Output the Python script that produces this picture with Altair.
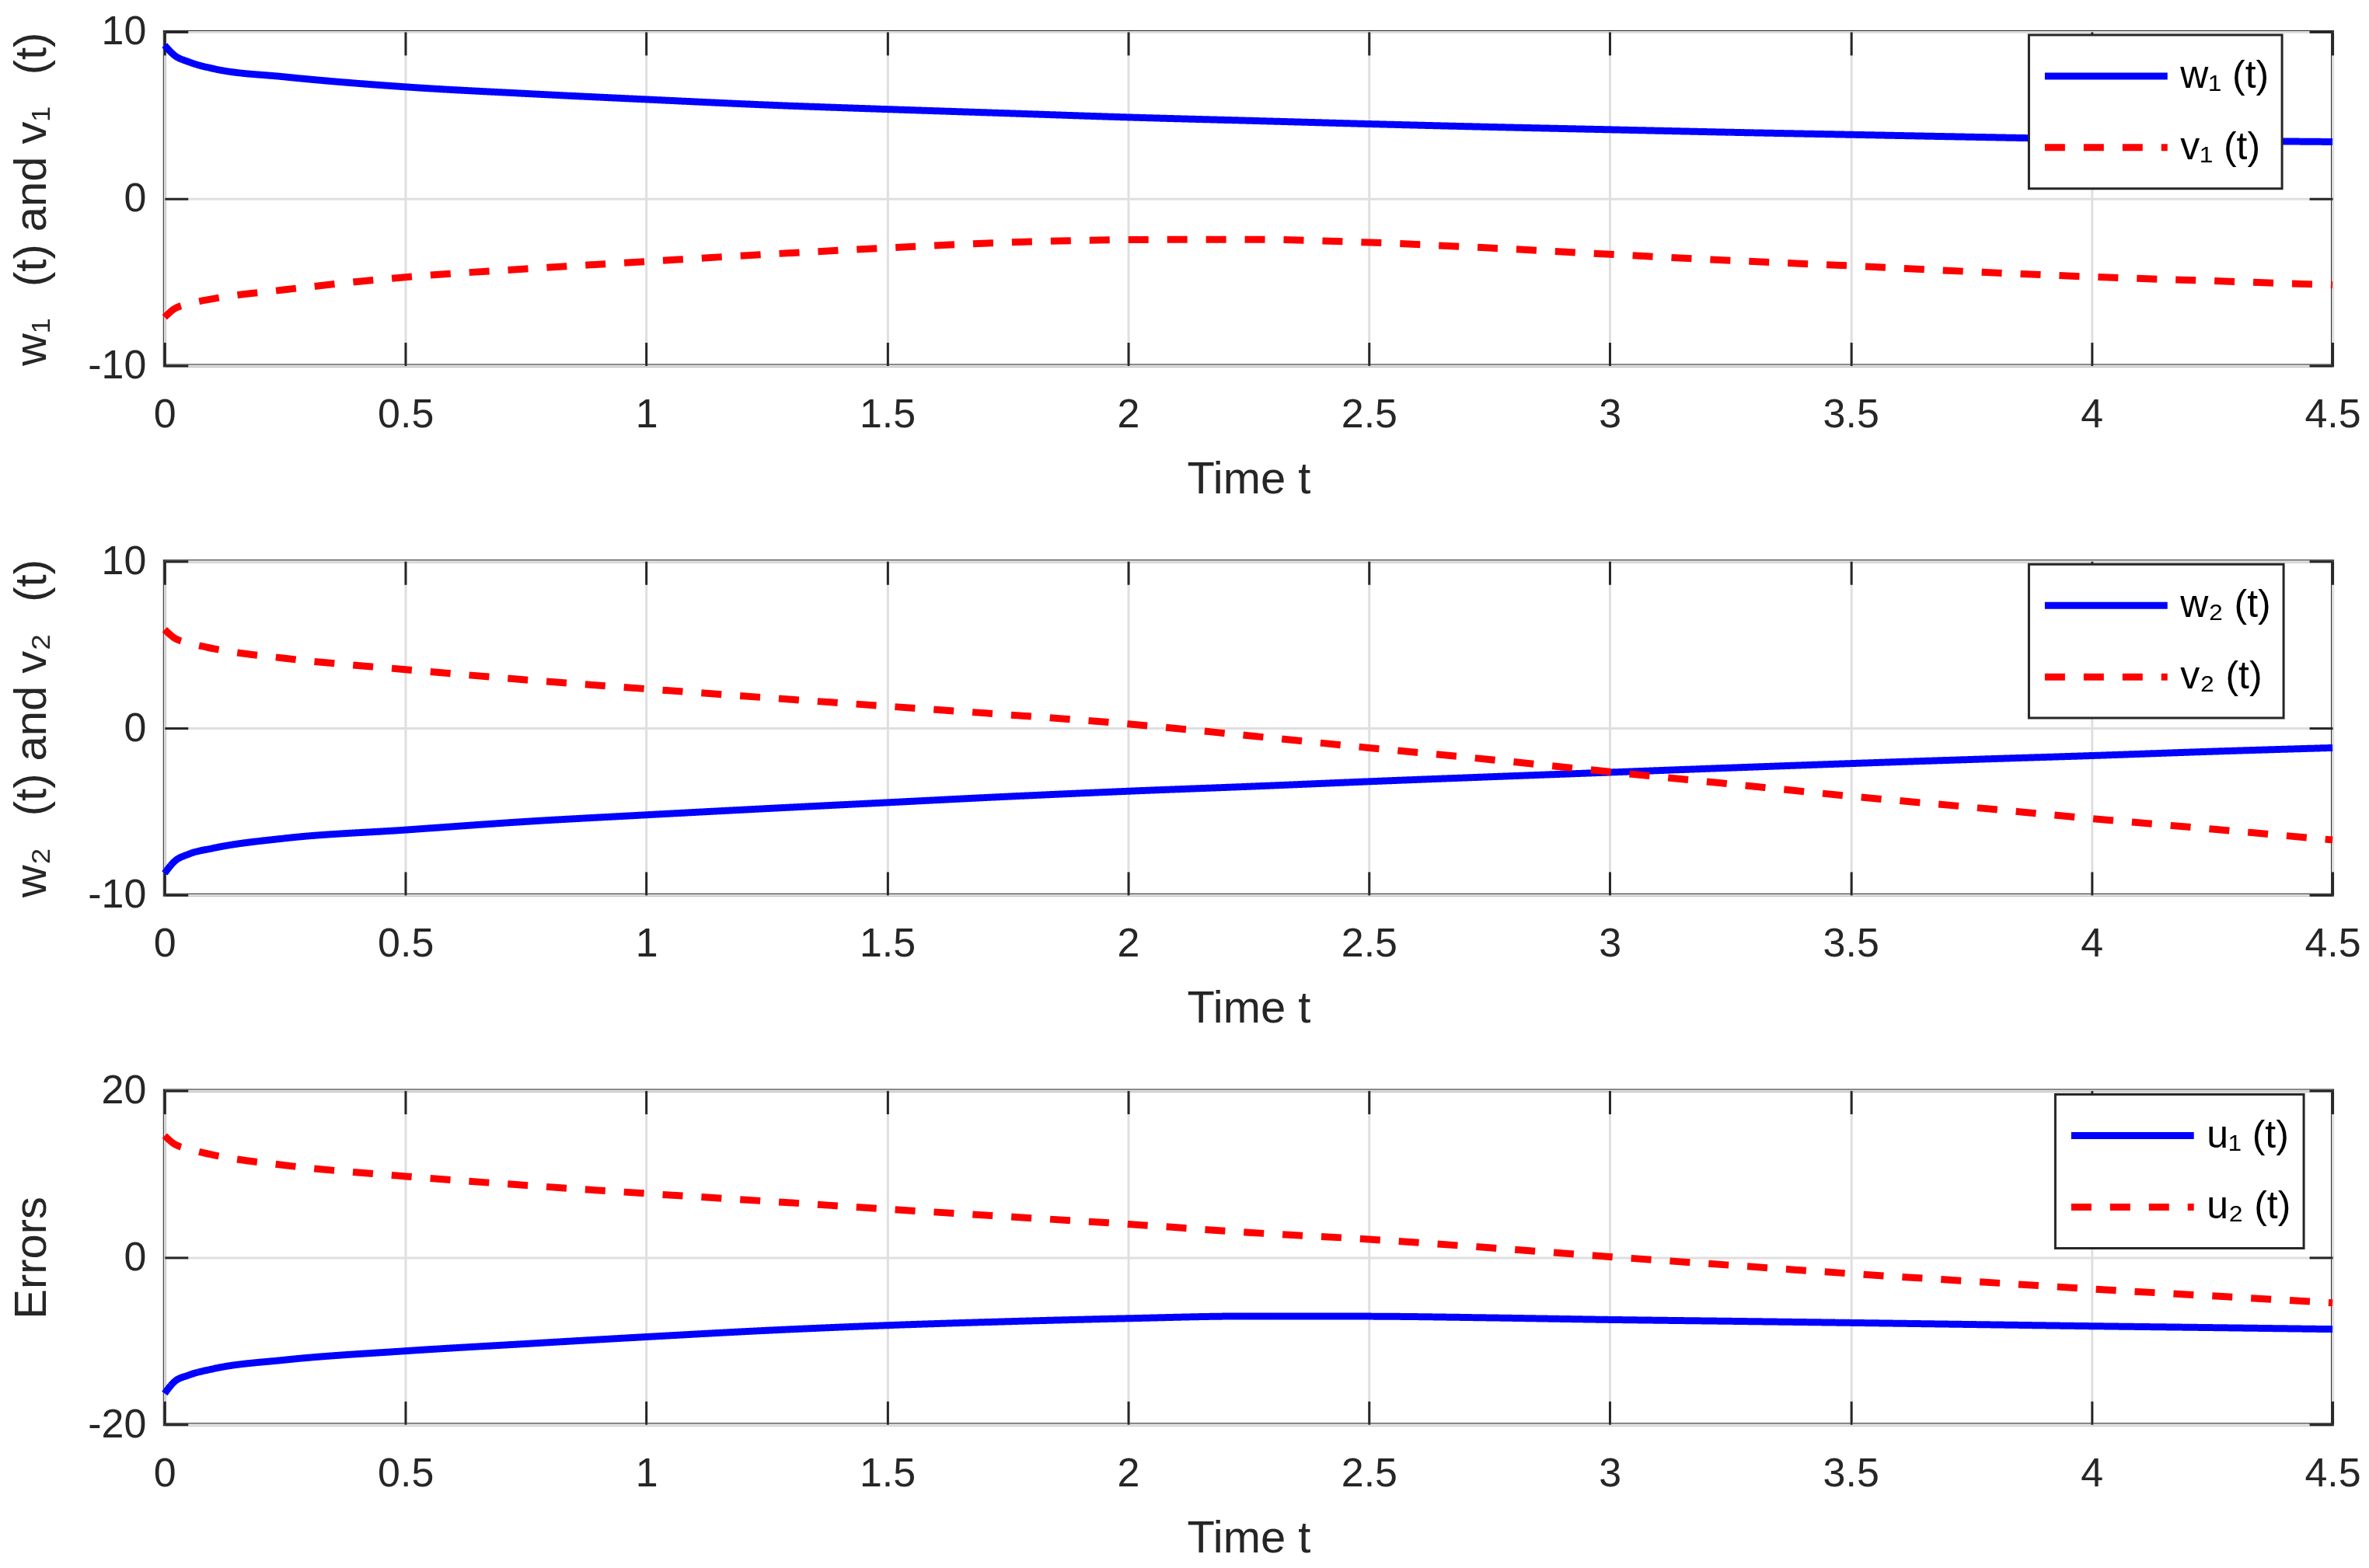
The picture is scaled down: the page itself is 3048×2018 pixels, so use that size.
import altair as alt
import pandas as pd

# ---- data ----
t = [0, 0.02, 0.05, 0.1, 0.25, 0.5, 0.75, 1.0, 1.25, 1.5, 1.75, 2.0, 2.25,
     2.5, 2.75, 3.0, 3.25, 3.5, 3.75, 4.0, 4.25, 4.5]

w1 = [9.2, 8.6, 8.2, 7.8, 7.3, 6.7, 6.3, 5.95, 5.62, 5.36, 5.12, 4.88, 4.68,
      4.48, 4.3, 4.14, 3.98, 3.84, 3.7, 3.57, 3.48, 3.41]
v1 = [-7.1, -6.6, -6.3, -6.0, -5.45, -4.7, -4.2, -3.76, -3.33, -2.95, -2.62,
      -2.46, -2.44, -2.62, -2.95, -3.33, -3.7, -4.02, -4.37, -4.68, -4.92, -5.17]

w2 = [-8.7, -8.0, -7.55, -7.2, -6.6, -6.1, -5.6, -5.2, -4.82, -4.46, -4.1,
      -3.78, -3.5, -3.2, -2.92, -2.65, -2.38, -2.12, -1.88, -1.65, -1.4, -1.18]
v2 = [5.9, 5.4, 5.1, 4.77, 4.18, 3.51, 2.89, 2.35, 1.82, 1.31, 0.8, 0.25,
      -0.45, -1.18, -1.88, -2.62, -3.35, -4.08, -4.74, -5.42, -6.05, -6.7]

u1 = [-16.3, -14.9, -14.1, -13.35, -12.27, -11.2, -10.34, -9.51, -8.74, -8.13,
      -7.67, -7.3, -7.03, -7.05, -7.22, -7.45, -7.63, -7.82, -8.02, -8.22, -8.4, -8.59]
u2 = [14.6, 13.6, 13.0, 12.3, 11.05, 9.73, 8.65, 7.67, 6.75, 5.8, 4.9, 4.0,
      3.0, 2.18, 1.17, 0.09, -0.92, -1.93, -2.85, -3.77, -4.6, -5.43]

x_ticks = [0, 0.5, 1, 1.5, 2, 2.5, 3, 3.5, 4, 4.5]
y_ticks_10 = [-10, 0, 10]
y_ticks_20 = [-20, 0, 20]

FONT = "Liberation Sans"
TXT = "#262626"
W, H = 2792, 430
GAP = "\u2002\u2009"


def panel(s1, s2, n1, n2, ytitle, ydom, yticks, lx, ly):
    df = pd.DataFrame({
        "t": t + t,
        "value": s1 + s2,
        "series": [n1] * len(t) + [n2] * len(t),
    })
    xs = alt.Scale(domain=[0, 4.5], nice=False, zero=False)
    ys = alt.Scale(domain=ydom, nice=False, zero=False)
    leg = alt.Legend(orient="none", legendX=lx, legendY=ly, title=None)
    base = alt.Chart(df)
    lines = base.mark_line(strokeWidth=9, interpolate="monotone").encode(
        x=alt.X("t:Q", scale=xs, axis=alt.Axis(
            orient="bottom", values=x_ticks, labelExpr="datum.value + ''",
            grid=True, ticks=False, tickSize=0, domain=False, title="Time t",
            labelPadding=38, titlePadding=29, labelFlush=False)),
        y=alt.Y("value:Q", scale=ys, axis=alt.Axis(
            orient="left", values=yticks, labelExpr="datum.value + ''",
            grid=True, ticks=False, tickSize=0, domain=False, title=ytitle,
            labelPadding=24, titlePadding=42, labelFlush=False)),
        color=alt.Color("series:N", scale=alt.Scale(domain=[n1, n2], range=["#0000ff", "#ff0000"]), legend=leg),
        strokeDash=alt.StrokeDash("series:N", scale=alt.Scale(domain=[n1, n2], range=[[1, 0], [26, 24]]), legend=leg),
    )
    tick = dict(ticks=True, tickSize=30, tickWidth=3, tickColor=TXT, labels=False,
                domain=False, grid=False, title=None, offset=-30,
                minExtent=0, maxExtent=0)
    t1 = base.mark_point(opacity=0).encode(
        x=alt.X("t:Q", scale=xs, axis=alt.Axis(orient="bottom", values=x_ticks, **tick)),
        y=alt.Y("value:Q", scale=ys, axis=alt.Axis(orient="left", values=yticks, **tick)),
    )
    t2 = base.mark_point(opacity=0).encode(
        x=alt.X("t:Q", scale=xs, axis=alt.Axis(orient="top", values=x_ticks, **tick)),
        y=alt.Y("value:Q", scale=ys, axis=alt.Axis(orient="right", values=yticks, **tick)),
    )
    return alt.layer(lines, t1, t2).resolve_axis(x="independent", y="independent").properties(width=W, height=H)


p1 = panel(w1, v1, "w₁ (t)", "v₁ (t)", f"w₁{GAP}(t) and v₁{GAP}(t)", [-10, 10], y_ticks_10, 2401, 4)
p2 = panel(w2, v2, "w₂ (t)", "v₂ (t)", f"w₂{GAP}(t) and v₂{GAP}(t)", [-10, 10], y_ticks_10, 2401, 4)
p3 = panel(u1, u2, "u₁ (t)", "u₂ (t)", "Errors", [-20, 20], y_ticks_20, 2435, 5)

chart = alt.vconcat(p1, p2, p3, spacing=46).resolve_scale(
    color="independent", strokeDash="independent"
).properties(
    padding={"left": 2, "top": 4, "right": 0, "bottom": 0}
).configure(font=FONT).configure_view(
    stroke=TXT, strokeWidth=4
).configure_axis(
    labelFont=FONT, titleFont=FONT, labelFontSize=52, titleFontSize=58,
    labelColor=TXT, titleColor=TXT, titleFontWeight="normal",
    gridColor="#dfdfdf", gridWidth=3, gridOpacity=1,
).configure_legend(
    strokeColor=TXT, strokeWidth=3, fillColor="white", padding=16,
    labelFont=FONT, labelFontSize=50, labelColor="black", labelOffset=12,
    symbolType="stroke", symbolSize=158 * 158, symbolStrokeWidth=9,
    clipHeight=74, rowPadding=18,
)

chart.save("out.html", embed_options={"renderer": "svg", "actions": False})
